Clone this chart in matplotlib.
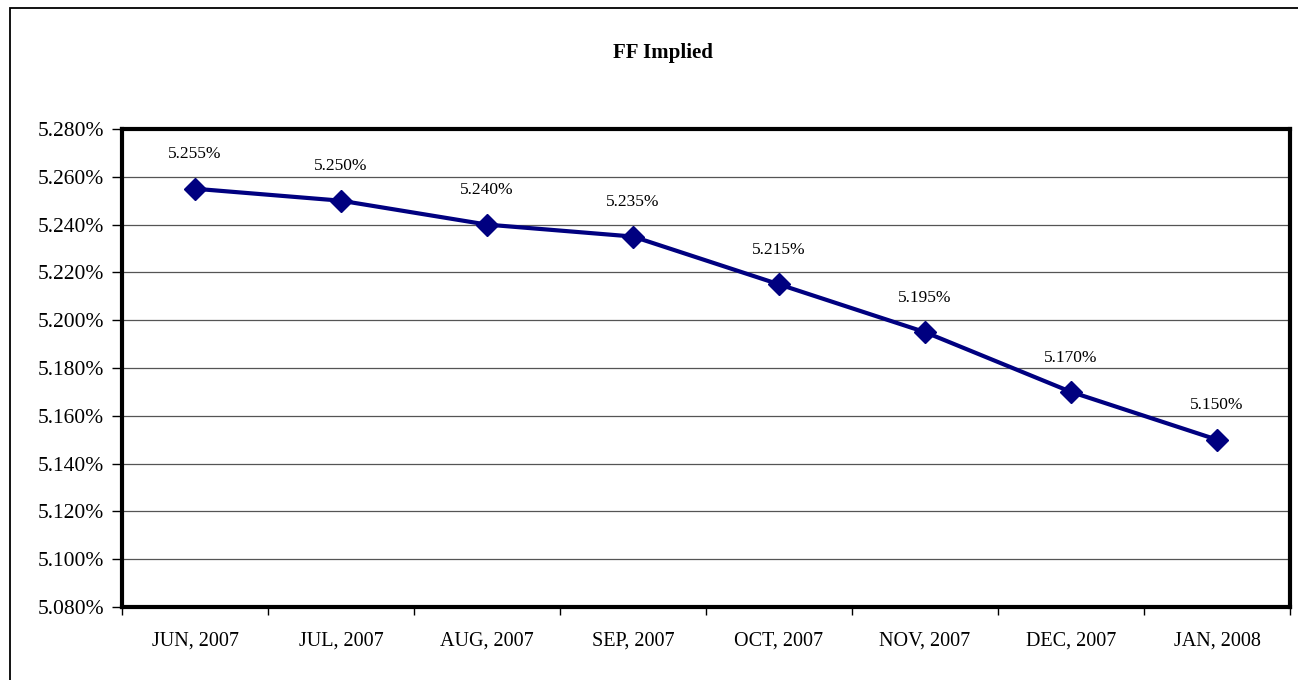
import numpy as np
import matplotlib.pyplot as plt
from matplotlib.patches import Rectangle
from matplotlib.ticker import FuncFormatter, MultipleLocator

# Data
months = ["JUN, 2007", "JUL, 2007", "AUG, 2007", "SEP, 2007",
          "OCT, 2007", "NOV, 2007", "DEC, 2007", "JAN, 2008"]
ff_implied = [5.255, 5.250, 5.240, 5.235, 5.215, 5.195, 5.170, 5.150]

plt.rcParams["font.family"] = ["Liberation Serif", "DejaVu Serif"]

fig = plt.figure(figsize=(12.98, 6.8), dpi=100)
ax = fig.add_axes([122 / 1298, 1 - 607 / 680, (1290 - 122) / 1298, (607 - 129) / 680])

x = np.arange(len(months))
ax.plot(x, ff_implied, color="#000080", linewidth=3, marker="D",
        markersize=11, markerfacecolor="#000080", markeredgecolor="#000080", zorder=3)

for xi, v in zip(x, ff_implied):
    ax.annotate(f"{v:.3f}%", (xi, v), xytext=(0, 19), textcoords="offset points",
                ha="center", va="bottom", fontsize=12.5)

ax.set_xlim(-0.5, len(months) - 0.5)
ax.set_ylim(5.08, 5.28)
ax.yaxis.set_major_locator(MultipleLocator(0.02))
ax.yaxis.set_major_formatter(FuncFormatter(lambda v, p: f"{v:.3f}%"))
ax.grid(axis="y", color="#555555", linewidth=0.9)
ax.set_axisbelow(True)

# category labels centered, ticks at boundaries
ax.set_xticks(x)
ax.set_xticklabels(months)
ax.tick_params(axis="x", length=0, pad=18, labelsize=14.5)
ax.set_xticks(np.arange(len(months) + 1) - 0.5, minor=True)
ax.tick_params(axis="x", which="minor", length=6, width=1, direction="out")
ax.tick_params(axis="y", length=7, width=1, labelsize=15.5, pad=6)

for s in ax.spines.values():
    s.set_linewidth(3)
    s.set_color("black")

fig.text(663 / 1298, 1 - 53 / 680, "FF Implied", ha="center", va="center",
         fontsize=15, fontweight="bold")

# outer chart border
fig.patches.append(Rectangle((10 / 1298, -0.05), 1.0, 1 - 8 / 680 + 0.05,
                             transform=fig.transFigure, fill=False,
                             edgecolor="black", linewidth=1.3))

fig.savefig("out.png", dpi=100)
